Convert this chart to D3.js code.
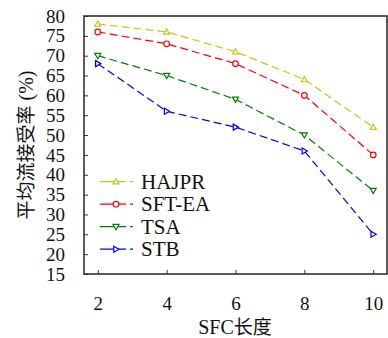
<!DOCTYPE html>
<html lang="en"><head><meta charset="utf-8">
<script src="https://cdn.jsdelivr.net/npm/d3@7"></script>
</head>
<body style="margin:0">
<svg id="chart" width="388" height="338" style="display:block"></svg>
<script>
const xValues = [2, 4, 6, 8, 10];
const seriesNames = ["HAJPR", "SFT-EA", "TSA", "STB"];
const hajpr = [78, 76, 71, 64, 52];
const sftea = [76, 73, 68, 60, 45];
const tsa = [70, 65, 59, 50, 36];
const stb = [68, 56, 52, 46, 25];
const yTicks = [15,20,25,30,35,40,45,50,55,60,65,70,75,80];
const xTicks = [2,4,6,8,10];
const colors = ["#c8c812", "#ff0000", "#008000", "#0000ff"];
const markers = ["up", "circle", "down", "right"];
const yLabelParts = [["平均流接受率", "cjk"], [" (%)", "latin"]];
const xLabelParts = [["SFC", "latin"], ["长度", "cjk"]];

const m = {left: 84, top: 16, right: 387, bottom: 274};
const svg = d3.select("#chart");
const x = d3.scaleLinear().domain([1.6, 10.4]).range([m.left, m.right]);
const y = d3.scaleLinear().domain([15, 80]).range([m.bottom, m.top]);
const font = "serif";
const cjkFont = "Noto Sans CJK SC";

const yAxis = d3.axisLeft(y).tickValues(yTicks).tickSize(-4).tickPadding(19);
const gy = svg.append("g").attr("transform", `translate(${m.left},0)`).call(yAxis);
const xAxis = d3.axisBottom(x).tickValues(xTicks).tickSize(-4).tickPadding(23);
const gx = svg.append("g").attr("transform", `translate(0,${m.bottom})`).call(xAxis);
[gy, gx].forEach(g => {
  g.attr("font-family", font).attr("font-size", 19);
  g.select(".domain").remove();
  g.selectAll(".tick line").attr("stroke", "#333").attr("stroke-width", 1);
  g.selectAll(".tick text").attr("font-family", font).attr("font-size", 19).attr("fill", "#111");
});

svg.append("rect").attr("x", m.left).attr("y", m.top)
  .attr("width", m.right - m.left).attr("height", m.bottom - m.top)
  .attr("fill", "none").attr("stroke", "#333").attr("stroke-width", 1.6);

const allData = [hajpr, sftea, tsa, stb];
const line = d3.line().x((d, i) => x(xValues[i])).y(d => y(d));

function drawMarker(g, type, cx, cy, color) {
  const s = 3;
  if (type === "circle") {
    g.append("circle").attr("cx", cx).attr("cy", cy).attr("r", 2.8)
      .attr("fill", "#fff").attr("stroke", color).attr("stroke-width", 1.2);
    return;
  }
  let pts;
  if (type === "up") pts = [[cx, cy - s], [cx - s, cy + s * 0.75], [cx + s, cy + s * 0.75]];
  else if (type === "down") pts = [[cx, cy + s], [cx - s, cy - s * 0.75], [cx + s, cy - s * 0.75]];
  else pts = [[cx + s, cy], [cx - s * 0.75, cy - s], [cx - s * 0.75, cy + s]];
  g.append("polygon").attr("points", pts.map(p => p.join(",")).join(" "))
    .attr("fill", "#fff").attr("stroke", color).attr("stroke-width", 1.2);
}

allData.forEach((data, k) => {
  const g = svg.append("g");
  g.append("path").attr("d", line(data)).attr("fill", "none")
    .attr("stroke", colors[k]).attr("stroke-width", 1.2).attr("stroke-dasharray", "8,4");
  data.forEach((d, i) => drawMarker(g, markers[k], x(xValues[i]), y(d), colors[k]));
});

const lg = svg.append("g");
seriesNames.forEach((name, k) => {
  const cy = 181.7 + k * 22.5;
  lg.append("line").attr("x1", 100).attr("x2", 133).attr("y1", cy).attr("y2", cy)
    .attr("stroke", colors[k]).attr("stroke-width", 1.2).attr("stroke-dasharray", "26,4,3,4");
  drawMarker(lg, markers[k], 116, cy, colors[k]);
  lg.append("text").attr("x", 141).attr("y", cy + 7).text(name)
    .attr("font-family", font).attr("font-size", 21).attr("fill", "#111");
});

function mixedText(sel, parts, size) {
  parts.forEach(([t, kind]) => {
    sel.append("tspan").attr("font-family", kind === "cjk" ? cjkFont : font)
      .attr("font-size", kind === "cjk" ? size - 1 : size).text(t);
  });
}
const yl = svg.append("text").attr("transform", "translate(33,145) rotate(-90)")
  .attr("text-anchor", "middle").attr("fill", "#111");
mixedText(yl, yLabelParts, 20);
const xl = svg.append("text").attr("x", 235).attr("y", 334).attr("text-anchor", "middle").attr("fill", "#111");
mixedText(xl, xLabelParts, 20);
</script>
</body></html>
